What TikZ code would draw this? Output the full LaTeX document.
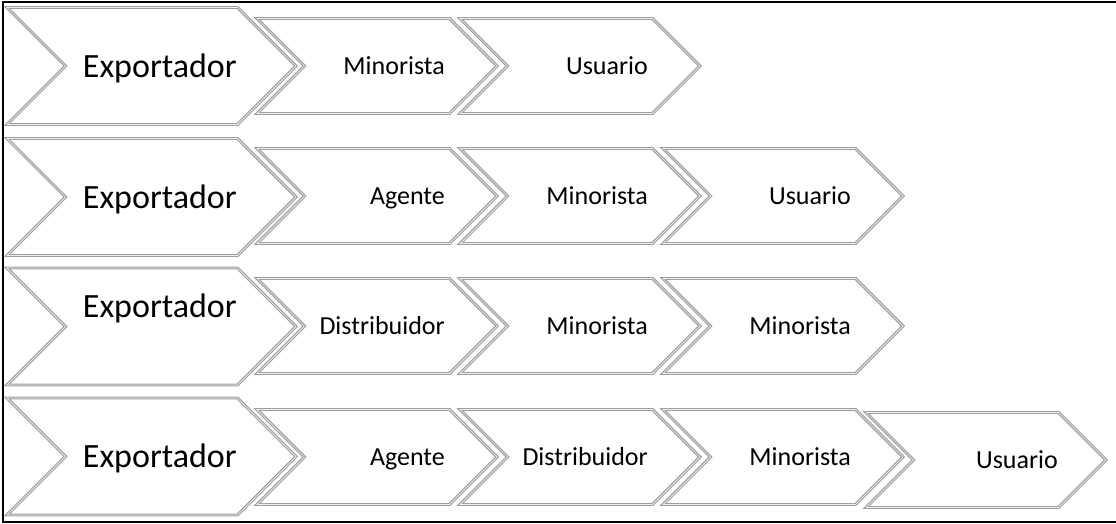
\documentclass[tikz,border=0pt]{standalone}
\usepackage{fontspec}
\setmainfont{Carlito}
\usetikzlibrary{shapes.symbols, positioning}
\definecolor{cLine}{HTML}{9E9E9E}
\tikzset{
  chev/.style={
    signal, signal to=east, signal from=west, signal pointer angle=90,
    draw=cLine, double=white!85!cLine, double distance=0.7pt, line width=1.1pt,
    fill=white, inner sep=0pt,
  },
  bigchev/.style={chev, minimum width=289pt, minimum height=117pt},
  smallchev/.style={chev, minimum width=240pt, minimum height=95pt},
  biglbl/.style={font=\fontsize{34}{40}\selectfont, anchor=base east, inner sep=0pt},
  smalllbl/.style={font=\fontsize{26}{31}\selectfont, anchor=base east, inner sep=0pt},
}
\begin{document}
\begin{tikzpicture}[x=1pt, y=1pt]

  \useasboundingbox (0,0) rectangle (1116,-523);
  \draw[line width=2pt] (3,-1.5) rectangle (1122,-521.5);

  % Row 1
  \node[bigchev]   (c11) at (151.5,-66) {};
  \node[smallchev] (c12) at (377,-66) {};
  \node[smallchev] (c13) at (580,-66) {};
  \node[biglbl]   (l11) at ([xshift=85.5pt, yshift=-11pt]c11.center) {Exportador};
  \node[smalllbl] (l12) at ([xshift=68pt, yshift=-8.5pt]c12.center) {Minorista};
  \node[smalllbl] (l13) at ([xshift=68pt, yshift=-8.5pt]c13.center) {Usuario};

  % Row 2
  \node[bigchev]   (c21) at (151.5,-197) {};
  \node[smallchev] (c22) at (377,-196) {};
  \node[smallchev] (c23) at (580,-196) {};
  \node[smallchev] (c24) at (783,-196) {};
  \node[biglbl]   (l21) at ([xshift=85.5pt, yshift=-11pt]c21.center) {Exportador};
  \node[smalllbl] (l22) at ([xshift=68pt, yshift=-8.5pt]c22.center) {Agente};
  \node[smalllbl] (l23) at ([xshift=68pt, yshift=-8.5pt]c23.center) {Minorista};
  \node[smalllbl] (l24) at ([xshift=68pt, yshift=-8.5pt]c24.center) {Usuario};

  % Row 3
  \node[bigchev]   (c31) at (151.5,-326.5) {};
  \node[smallchev] (c32) at (377,-326) {};
  \node[smallchev] (c33) at (580,-326) {};
  \node[smallchev] (c34) at (783,-326) {};
  \node[biglbl]   (l31) at ([xshift=85.5pt, yshift=9.5pt]c31.center) {Exportador};
  \node[smalllbl] (l32) at ([xshift=68pt, yshift=-8.5pt]c32.center) {Distribuidor};
  \node[smalllbl] (l33) at ([xshift=68pt, yshift=-8.5pt]c33.center) {Minorista};
  \node[smalllbl] (l34) at ([xshift=68pt, yshift=-8.5pt]c34.center) {Minorista};

  % Row 4
  \node[bigchev]   (c41) at (151.5,-456.5) {};
  \node[smallchev] (c42) at (377,-457) {};
  \node[smallchev] (c43) at (580,-457) {};
  \node[smallchev] (c44) at (783,-457) {};
  \node[smallchev] (c45) at (986,-460) {};
  \node[biglbl]   (l41) at ([xshift=85.5pt, yshift=-11pt]c41.center) {Exportador};
  \node[smalllbl] (l42) at ([xshift=68pt, yshift=-8.5pt]c42.center) {Agente};
  \node[smalllbl] (l43) at ([xshift=68pt, yshift=-8.5pt]c43.center) {Distribuidor};
  \node[smalllbl] (l44) at ([xshift=68pt, yshift=-8.5pt]c44.center) {Minorista};
  \node[smalllbl] (l45) at ([xshift=72pt, yshift=-8.5pt]c45.center) {Usuario};

\end{tikzpicture}
\end{document}
